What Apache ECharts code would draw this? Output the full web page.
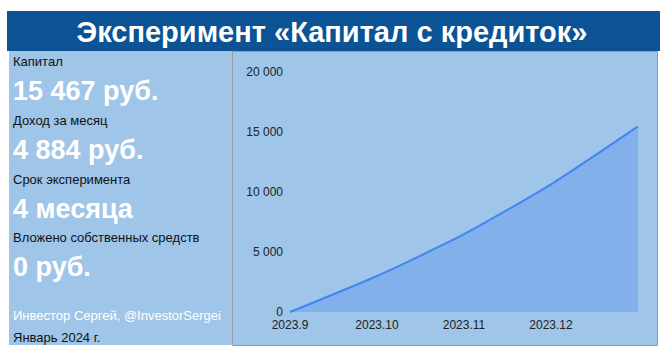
<!DOCTYPE html>
<html><head><meta charset="utf-8">
<script src="https://cdn.jsdelivr.net/npm/echarts@6/dist/echarts.min.js"></script>
<style>html,body{margin:0;padding:0;background:#fff}#c{width:667px;height:358px}</style>
</head><body><div id="c"></div>
<script>
var title = 'Эксперимент «Капитал с кредиток»';
var categories = ['2023.9', '2023.10', '2023.11', '2023.12', '2024.1'];
var capitalValues = [0, 3000, 6480, 10640, 15467];
var yTicks = [0, 5000, 10000, 15000, 20000];
var infoLabels = ['Капитал', 'Доход за месяц', 'Срок эксперимента', 'Вложено собственных средств'];
var infoValues = ['15 467 руб.', '4 884 руб.', '4 месяца', '0 руб.'];
var author = 'Инвестор Сергей, @InvestorSergei';
var dateText = 'Январь 2024 г.';

var FONT = '"Liberation Sans", Arial, sans-serif';
var chart = echarts.init(document.getElementById('c'), null, {renderer: 'svg'});

var graphics = [
  {type: 'rect', shape: {x: 7, y: 11, width: 653, height: 40}, style: {fill: '#0b5394'}, z: 0},
  {type: 'rect', shape: {x: 9, y: 51, width: 223, height: 294}, style: {fill: '#9fc5e8'}, z: 0},
  {type: 'rect', shape: {x: 232.5, y: 51.5, width: 425, height: 294}, style: {fill: '#9fc5e8', stroke: '#9a9a9a', lineWidth: 1}, z: 0},
  {type: 'text', x: 332, y: 32, style: {text: title, fill: '#fff', font: 'bold 29px ' + FONT, textAlign: 'center', textVerticalAlign: 'middle'}, z: 5}
];
var rowY = [61, 120, 179, 237];
for (var i = 0; i < infoLabels.length; i++) {
  graphics.push({type: 'text', x: 13, y: rowY[i], style: {text: infoLabels[i], fill: '#111', font: '13px ' + FONT, textVerticalAlign: 'middle'}, z: 5});
  graphics.push({type: 'text', x: 13, y: rowY[i] + 30, style: {text: infoValues[i], fill: '#fff', font: 'bold 27px ' + FONT, textVerticalAlign: 'middle'}, z: 5});
}
graphics.push({type: 'text', x: 13, y: 315, style: {text: author, fill: '#fff', font: '13px ' + FONT, textVerticalAlign: 'middle'}, z: 5});
graphics.push({type: 'text', x: 13, y: 337, style: {text: dateText, fill: '#111', font: '13px ' + FONT, textVerticalAlign: 'middle'}, z: 5});

chart.setOption({
  animation: false,
  graphic: graphics,
  grid: {left: 290, right: 29, top: 72, bottom: 46, containLabel: false},
  xAxis: {
    type: 'category', data: categories, boundaryGap: false,
    axisLine: {show: false}, axisTick: {show: false},
    axisLabel: {color: '#222', fontSize: 12, fontFamily: FONT, margin: 7,
      interval: 0,
      formatter: function (v, idx) { return idx === categories.length - 1 ? '' : v; }}
  },
  yAxis: {
    type: 'value', min: yTicks[0], max: yTicks[yTicks.length - 1], interval: yTicks[1] - yTicks[0],
    axisLine: {show: false}, axisTick: {show: false}, splitLine: {show: false},
    axisLabel: {color: '#222', fontSize: 12, fontFamily: FONT, margin: 7,
      formatter: function (v) { return String(v).replace(/\B(?=(\d{3})+(?!\d))/g, ' '); }}
  },
  series: [{
    type: 'line', data: capitalValues, smooth: 0.2, symbol: 'none',
    lineStyle: {color: '#4285f4', width: 2},
    areaStyle: {color: '#82b0ea', opacity: 1}
  }]
});
</script></body></html>
